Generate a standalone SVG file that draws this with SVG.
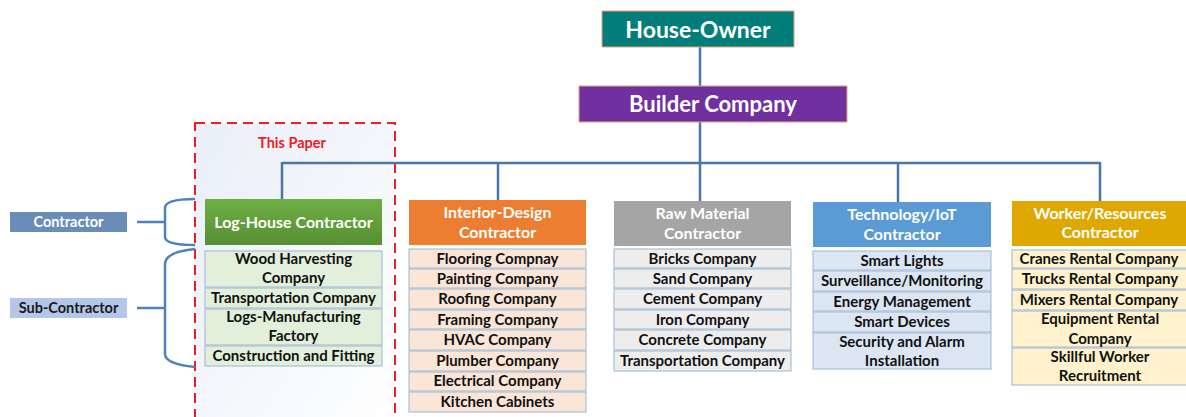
<svg xmlns="http://www.w3.org/2000/svg" width="1186" height="417" viewBox="0 0 1186 417">
<defs>
<linearGradient id="paperG" x1="0" y1="0" x2="1" y2="1"><stop offset="0" stop-color="#e9eef7"/><stop offset="1" stop-color="#ffffff"/></linearGradient>
<linearGradient id="greenG" x1="0" y1="0" x2="0" y2="1"><stop offset="0" stop-color="#6fae45"/><stop offset="1" stop-color="#578f33"/></linearGradient>
<style>
text{font-family:Lato,"Liberation Sans",sans-serif;font-weight:bold;text-anchor:middle}
.hdr{fill:#fff;font-size:16px}
.sub{fill:#111;font-size:15px}
.subbox{stroke:#a9c0d6;stroke-width:1.2}
.conn{fill:none;stroke:#4a77a9;stroke-width:2.5}
.brace{fill:none;stroke:#4f82bd;stroke-width:2.5}
</style>
</defs>
<rect width="1186" height="417" fill="#fff"/>
<g id="this-paper">
<rect x="195" y="123" width="200" height="300" fill="url(#paperG)" stroke="#ee1c24" stroke-width="2" stroke-dasharray="10,6"/>
<text x="292" y="148" style="fill:#ee1c24;font-size:14.5px">This Paper</text>
</g>
<g id="connectors">
<line class="conn" x1="700" y1="47" x2="700" y2="86"/>
<line class="conn" x1="700" y1="122" x2="700" y2="201"/>
<line class="conn" x1="282" y1="163" x2="1100" y2="163"/>
<line class="conn" x1="282" y1="162" x2="282" y2="199"/>
<line class="conn" x1="498" y1="162" x2="498" y2="200"/>
<line class="conn" x1="898" y1="162" x2="898" y2="202"/>
<line class="conn" x1="1100" y1="162" x2="1100" y2="201"/>
<path class="brace" d="M195,199 Q165,199 165,208 L165,237 Q165,245 195,245"/>
<line class="brace" x1="137" y1="222" x2="165" y2="222"/>
<path class="brace" d="M195,249 Q165,252 165,264 L165,354 Q165,364 195,367"/>
<line class="brace" x1="137" y1="308" x2="165" y2="308"/>
</g>
<g id="house-owner">
<rect x="602" y="11" width="192" height="36" fill="#027d7a" stroke="#e8a27a" stroke-width="1"/>
<text x="698" y="37.5" style="fill:#fff;font-size:23px">House-Owner</text>
</g>
<g id="builder-company">
<rect x="579" y="86" width="268" height="36" fill="#7030a0" stroke="#e8a27a" stroke-width="1"/>
<text x="713" y="112" style="fill:#fff;font-size:22px">Builder Company</text>
</g>
<g id="label-contractor">
<rect x="10" y="212" width="117" height="20" fill="#6a8db7"/>
<text x="68.5" y="227" style="fill:#fff;font-size:14.5px">Contractor</text>
</g>
<g id="label-subcontractor">
<rect x="10" y="298" width="117" height="20" fill="#b4c7e7"/>
<text x="68.5" y="313" style="fill:#1a1a1a;font-size:14.5px">Sub-Contractor</text>
</g>
<g id="log-house">
<rect x="205" y="199" width="177" height="46" fill="url(#greenG)"/>
<text class="hdr" x="293.5" y="228">Log-House Contractor</text>
<rect class="subbox" x="205" y="251" width="177" height="36" fill="#e2efda"/>
<text class="sub" x="293.5" y="264">Wood Harvesting</text>
<text class="sub" x="293.5" y="283">Company</text>
<rect class="subbox" x="205" y="288" width="177" height="20" fill="#e2efda"/>
<text class="sub" x="293.5" y="303">Transportation Company</text>
<rect class="subbox" x="205" y="309" width="177" height="36" fill="#e2efda"/>
<text class="sub" x="293.5" y="322">Logs-Manufacturing</text>
<text class="sub" x="293.5" y="341">Factory</text>
<rect class="subbox" x="205" y="346" width="177" height="20" fill="#e2efda"/>
<text class="sub" x="293.5" y="361">Construction and Fitting</text>
</g>
<g id="interior-design">
<rect x="409" y="200" width="177" height="45" fill="#ed7d31"/>
<text class="hdr" x="497.5" y="218">Interior-Design</text>
<text class="hdr" x="497.5" y="238">Contractor</text>
<g fill="#fbe5d6">
<rect class="subbox" x="409" y="249" width="177" height="19"/>
<rect class="subbox" x="409" y="269" width="177" height="19"/>
<rect class="subbox" x="409" y="289" width="177" height="20"/>
<rect class="subbox" x="409" y="310" width="177" height="19"/>
<rect class="subbox" x="409" y="330" width="177" height="20"/>
<rect class="subbox" x="409" y="351" width="177" height="20"/>
<rect class="subbox" x="409" y="372" width="177" height="19"/>
<rect class="subbox" x="409" y="392" width="177" height="20"/>
</g>
<text class="sub" x="497.5" y="264">Flooring Compnay</text>
<text class="sub" x="497.5" y="284">Painting Company</text>
<text class="sub" x="497.5" y="304">Roofing Company</text>
<text class="sub" x="497.5" y="325">Framing Company</text>
<text class="sub" x="497.5" y="345">HVAC Company</text>
<text class="sub" x="497.5" y="366">Plumber Company</text>
<text class="sub" x="497.5" y="386">Electrical Company</text>
<text class="sub" x="497.5" y="407">Kitchen Cabinets</text>
</g>
<g id="raw-material">
<rect x="614" y="201" width="177" height="45" fill="#a5a5a5"/>
<text class="hdr" x="702.5" y="219">Raw Material</text>
<text class="hdr" x="702.5" y="239">Contractor</text>
<g fill="#ededed">
<rect class="subbox" x="614" y="249" width="177" height="19"/>
<rect class="subbox" x="614" y="269" width="177" height="19"/>
<rect class="subbox" x="614" y="289" width="177" height="20"/>
<rect class="subbox" x="614" y="310" width="177" height="19"/>
<rect class="subbox" x="614" y="330" width="177" height="20"/>
<rect class="subbox" x="614" y="351" width="177" height="20"/>
</g>
<text class="sub" x="702.5" y="264">Bricks Company</text>
<text class="sub" x="702.5" y="284">Sand Company</text>
<text class="sub" x="702.5" y="304">Cement Company</text>
<text class="sub" x="702.5" y="325">Iron Company</text>
<text class="sub" x="702.5" y="345">Concrete Company</text>
<text class="sub" x="702.5" y="366">Transportation Company</text>
</g>
<g id="technology-iot">
<rect x="813" y="202" width="178" height="45" fill="#5b9bd5"/>
<text class="hdr" x="902" y="220">Technology/IoT</text>
<text class="hdr" x="902" y="240">Contractor</text>
<g fill="#dce6f2">
<rect class="subbox" x="813" y="251" width="178" height="19"/>
<rect class="subbox" x="813" y="271" width="178" height="20"/>
<rect class="subbox" x="813" y="292" width="178" height="19"/>
<rect class="subbox" x="813" y="312" width="178" height="20"/>
<rect class="subbox" x="813" y="333" width="178" height="36"/>
</g>
<text class="sub" x="902" y="266">Smart Lights</text>
<text class="sub" x="902" y="286">Surveillance/Monitoring</text>
<text class="sub" x="902" y="307">Energy Management</text>
<text class="sub" x="902" y="327">Smart Devices</text>
<text class="sub" x="902" y="347">Security and Alarm</text>
<text class="sub" x="902" y="366">Installation</text>
</g>
<g id="worker-resources">
<rect x="1012" y="201" width="176" height="45" fill="#dfa800"/>
<text class="hdr" x="1100" y="219">Worker/Resources</text>
<text class="hdr" x="1100" y="238">Contractor</text>
<g fill="#fff2cc">
<rect class="subbox" x="1012" y="250" width="176" height="18"/>
<rect class="subbox" x="1012" y="269" width="176" height="20"/>
<rect class="subbox" x="1012" y="290" width="176" height="20"/>
<rect class="subbox" x="1012" y="311" width="176" height="36"/>
<rect class="subbox" x="1012" y="348" width="176" height="37"/>
</g>
<text class="sub" x="1099" y="264">Cranes Rental Company</text>
<text class="sub" x="1100" y="284">Trucks Rental Company</text>
<text class="sub" x="1099" y="305">Mixers Rental Company</text>
<text class="sub" x="1100" y="324">Equipment Rental</text>
<text class="sub" x="1100" y="344">Company</text>
<text class="sub" x="1100" y="362">Skillful Worker</text>
<text class="sub" x="1100" y="381">Recruitment</text>
</g>
</svg>
